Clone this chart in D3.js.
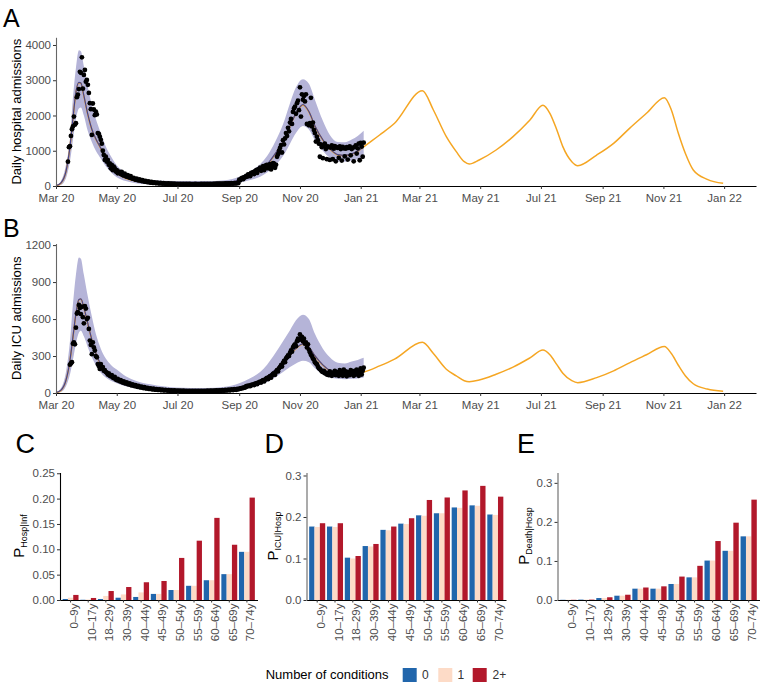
<!DOCTYPE html>
<html><head><meta charset="utf-8">
<script src="https://cdn.jsdelivr.net/npm/d3@7"></script>
<style>
body{margin:0;background:#fff}
text{font-family:"Liberation Sans",Arial,sans-serif}
</style>
</head><body>
<svg id="chart" width="760" height="682"></svg>
<script>
// ---------------- DATA ----------------
const hospObsStart = "2020-03-13";
const hospObs = [
690,1100,1130,1420,1610,1690,1970,1740,1780,2520,2590,2750,3240,3210,3650,2760,3150,3290,2960,3010,
2870,2640,2350,2180,1450,2340,2170,2010,2110,2030,1500,1480,1400,1310,1200,1000,
880,740,830,690,740,600,640,500,600,450,550,500,410,450,360,410,380,340,400,310,
300,350,280,270,310,250,240,280,220,210,
230,190,180,210,165,160,185,150,140,165,130,125,145,115,110,128,100,98,115,90,
88,102,82,80,94,76,74,88,72,70,82,66,68,
64,62,72,60,58,68,57,55,64,56,54,62,55,53,60,54,52,58,53,51,
59,52,50,57,51,50,56,52,50,57,51,49,56,52,51,58,53,51,59,54,
52,60,55,53,62,56,54,63,57,55,65,58,57,67,60,58,69,62,60,72,
64,62,75,67,65,79,70,68,83,74,72,88,79,
180,160,210,230,195,250,245, 290,265,330,320,280,370,360, 390,340,420,450,370,470,480,
520,430,490,560,450,510,590, 600,500,540,620,470,560,650, 635,515,600,830,900,1000,1080,
1160,950,1300,1180,1350,1500,1420, 1650,1550,1800,1900,1760,2100,2200, 2250,2050,2350,2420,2150,
2800,1970,2600,2450,2550,2400,2600, 1760,1750,1720,1780,2500,1690,1800, 1590,1500,1260,1400,1300,1200,830,
1180,1100,790,1150,1200,1050,760, 1120,1100,740,1090,1150,760,1060, 1130,700,1100,1080,800,1120,1050,
720,1110,1070,840,1060,1100,750, 1080,1120,870,1050,1090,700,1100, 1150,920,1070,1200,730,1220,1120,
830,1230];

const icuObsStart = "2020-03-15";
const icuObs = [
230,240,250,400,410,395,530, 645,655,715,690,640,700,615, 565,705,685,600,610,520,425,
390,315,410,370,345,300,290, 235,220,195,235,200,210,180, 185,170,165,150,160,140,135,
145,125,120,130,110,105,115, 100,95,105,90,85,95,80, 78,85,72,70,78,65,62,
70,58,56,63,52,50,57, 47,45,52,42,40,47,38, 37,42,34,33,38,31,30,
35,28,27,31,26,25,29,24,23,27,22,22,25,
22,20,24,19,18,22,18,17,21,17,16,20,17,16,19,16,15,19,16,15,
18,15,15,18,15,14,17,15,14,17,15,14,17,15,15,18,15,15,18,16,
15,19,16,16,19,17,16,20,17,17,21,18,18,22,19,18,23,20,19,25,
21,21,27,23,22,29,25,24,31,27,26,34,30,
33,38,36,42,40,46,44, 55,52,60,58,55,66,64, 70,65,76,78,72,84,86,
92,85,98,104,94,108,116, 122,112,128,136,124,144,154, 160,148,172,185,175,200,210,
225,215,245,260,250,280,290, 305,300,325,345,335,370,385, 395,380,420,440,430,
475,445,455,420,440,400,410, 370,395,350,330,310,300,280, 270,250,240,235,215,200,195,
185,175,170,180,160,165,150, 160,145,175,150,140,165,155, 180,145,170,160,140,185,150,
165,140,190,150,175,135,170, 160,145,185,155,175,140,180, 150,190,165,140,175,200,150,
180,205];

const fitDates = ["2020-03-01","2020-03-06","2020-03-11","2020-03-15","2020-03-18","2020-03-21","2020-03-24","2020-03-26","2020-03-29","2020-04-02",
"2020-04-06","2020-04-10","2020-04-15","2020-04-20","2020-04-25","2020-05-01","2020-05-10","2020-05-20","2020-06-04","2020-06-29",
"2020-07-29","2020-08-18","2020-09-01","2020-09-12","2020-09-22","2020-09-29","2020-10-07","2020-10-15","2020-10-22","2020-10-28",
"2020-11-04","2020-11-10","2020-11-16","2020-11-24","2020-12-01","2020-12-09","2020-12-16","2020-12-23","2020-12-29","2021-01-04"];
const hospFit = [0,80,400,1100,1900,2650,2930,2910,2550,2020, 1600,1330,1060,780,560,370,220,140,90,70,
70,85,160,280,420,600,900,1250,1700,2050, 2300,2100,1700,1300,1050,880,860,900,980,1110];
const hospLo = [0,30,220,700,1300,1900,2200,2230,2000,1550, 1250,1000,780,560,400,250,140,80,45,25,
25,40,95,170,260,380,580,850,1200,1500, 1700,1600,1300,1000,800,700,690,720,760,820];
const hospHi = [20,140,600,1350,2500,3350,3850,3820,3400,2800, 2300,1900,1500,1120,850,590,380,250,170,140,
140,165,260,420,620,850,1250,1750,2350,2800, 3030,2900,2450,1850,1450,1250,1240,1320,1420,1570];
const icuFit = [0,20,100,260,450,640,755,760,690,560, 430,320,230,180,150,120,85,62,40,22,
18,24,40,65,95,130,185,250,310,360, 395,370,300,225,180,158,152,155,160,170];
const icuLo = [0,8,55,150,270,400,490,505,460,370, 290,225,165,125,100,80,55,40,25,14,
12,16,28,45,65,90,125,170,210,240, 262,250,200,150,125,115,112,115,118,125];
const icuHi = [5,40,170,420,720,960,1100,1090,960,780, 620,480,360,280,230,190,135,100,70,45,
40,50,80,120,170,230,320,420,510,590, 635,600,480,360,290,245,240,255,268,285];

const projDates = ["2021-01-04","2021-01-20","2021-02-04","2021-03-04","2021-03-15","2021-03-28","2021-04-07","2021-04-15","2021-04-20","2021-04-30",
"2021-05-17","2021-06-03","2021-06-20","2021-07-03","2021-07-10","2021-07-17","2021-07-23","2021-08-01","2021-08-07","2021-08-26",
"2021-09-12","2021-09-28","2021-10-15","2021-11-02","2021-11-09","2021-11-16","2021-11-23","2021-12-01","2021-12-15","2021-12-31"];
const hospProj = [1110,1447,1778,2704,2156,1399,974,690,624,738, 1021,1399,1872,2289,2062,1589,1116,690,577,879,
1210,1636,2062,2506,2156,1494,927,454,189,76];
const icuProj = [170,220,275,411,320,193,139,100,92,105, 152,210,285,348,310,230,160,100,84,125,
180,245,310,378,320,225,140,75,32,14];

const hospTicks = [0,1000,2000,3000,4000];
const icuTicks = [0,300,600,900,1200];

const ageGroups = ["0–9y","10–17y","18–29y","30–39y","40–44y","45–49y","50–54y","55–59y","60–64y","65–69y","70–74y"];
const conditionLevels = ["0","1","2+"];
const conditionColors = ["#2166ac","#fddbc7","#b2182b"];

const pHospInf0 = [0.002,0.0005,0.002,0.0045,0.006,0.012,0.0197,0.028,0.039,0.051,0.095];
const pHospInf1 = [0.0045,0.001,0.008,0.011,0.015,0.012,0.0197,0.028,0.039,0.051,0.095];
const pHospInf2 = [0.010,0.004,0.0177,0.0256,0.035,0.0375,0.083,0.117,0.162,0.109,0.202];
const pICU0 = [0.177,0.177,0.102,0.130,0.169,0.184,0.204,0.209,0.223,0.228,0.206];
const pICU1 = [0.176,0.176,0.100,0.129,0.168,0.183,0.203,0.209,0.222,0.227,0.205];
const pICU2 = [0.185,0.185,0.106,0.135,0.177,0.197,0.241,0.247,0.264,0.275,0.249];
const pDeath0 = [0.0005,0.001,0.005,0.011,0.029,0.029,0.041,0.058,0.101,0.126,0.163];
const pDeath1 = [0.0005,0.001,0.005,0.011,0.029,0.029,0.041,0.058,0.101,0.126,0.163];
const pDeath2 = [0.0005,0.001,0.007,0.0135,0.032,0.035,0.060,0.0875,0.151,0.198,0.257];

const cTicks = [0,0.05,0.10,0.15,0.20,0.25];
const dTicks = [0,0.1,0.2,0.3];
const eTicks = [0,0.1,0.2,0.3];

// ---------------- DRAW ----------------
const svg = d3.select("#chart");
const parse = d3.timeParse("%Y-%m-%d");
const TXT = "#4d4d4d";

const x = d3.scaleTime().domain([parse("2020-03-01"), parse("2022-02-02")]).range([56, 756]);

function styleAxis(g, domainColor){
  g.attr("font-family", null).attr("font-size", null);
  g.select(".domain").attr("stroke", domainColor).attr("stroke-width", 1.1);
  g.selectAll(".tick line").attr("stroke", "#333");
  g.selectAll(".tick text").attr("fill", TXT).style("font-size", "11.5px");
}

function tsPanel(o){
  const y = d3.scaleLinear().domain([0, o.ymax]).range([o.y0, o.y1]);
  const g = svg.append("g");
  const fd = fitDates.map(parse);
  const band = fd.map((d,i)=>({d, lo:o.lo[i], hi:o.hi[i]}));
  g.append("path").datum(band)
    .attr("d", d3.area().x(p=>x(p.d)).y0(p=>y(p.lo)).y1(p=>y(p.hi)).curve(d3.curveMonotoneX))
    .attr("fill", "#b5b4d8");
  const fitPts = fd.map((d,i)=>({d, v:o.fit[i]}));
  const projPts = projDates.map((d,i)=>({d:parse(d), v:o.proj[i]}));
  const line = d3.line().x(p=>x(p.d)).y(p=>y(p.v)).curve(d3.curveMonotoneX);
  g.append("path").datum(fitPts.slice(0,-1).concat(projPts))
    .attr("d", line).attr("fill","none").attr("stroke","#f5a623").attr("stroke-width",1.5);
  g.append("path").datum(fitPts)
    .attr("d", d3.line().x(p=>x(p.d)).y(p=>y(p.v)-0.4).curve(d3.curveMonotoneX))
    .attr("fill","none").attr("stroke","#45458f").attr("stroke-width",1.2);
  const start = parse(o.obsStart);
  g.append("g").selectAll("circle").data(o.obs).join("circle")
    .attr("cx",(v,i)=>x(d3.timeDay.offset(start,i))).attr("cy",v=>y(v)).attr("r",2.4).attr("fill","#000");

  const xa = svg.append("g").attr("transform",`translate(0,${o.y0})`)
    .call(d3.axisBottom(x).ticks(d3.timeMonth.every(2)).tickFormat(d3.timeFormat("%b %y")).tickSize(3).tickSizeOuter(0).tickPadding(5));
  styleAxis(xa, "#000");
  const ya = svg.append("g").attr("transform",`translate(56,0)`)
    .call(d3.axisLeft(y).tickValues(o.ticks).tickFormat(d3.format("d")).tickSize(3).tickSizeOuter(0).tickPadding(2));
  styleAxis(ya, "#666");

  svg.append("text").attr("transform",`translate(20.5,${(o.y0+o.y1)/2}) rotate(-90)`)
    .attr("text-anchor","middle").style("font-size","13px").attr("fill","#000").text(o.title);
  svg.append("text").attr("x",3).attr("y",o.letterY).style("font-size","25px").attr("fill","#000").text(o.letter);
}

tsPanel({ymax:4218, y0:186, y1:37.3, ticks:hospTicks, obs:hospObs, obsStart:hospObsStart,
  fit:hospFit, lo:hospLo, hi:hospHi, proj:hospProj, title:"Daily hospital admissions", letter:"A", letterY:27});
tsPanel({ymax:1213, y0:393, y1:243.5, ticks:icuTicks, obs:icuObs, obsStart:icuObsStart,
  fit:icuFit, lo:icuLo, hi:icuHi, proj:icuProj, title:"Daily ICU admissions", letter:"B", letterY:237});

function barPanel(o){
  const xb = d3.scaleBand().domain(ageGroups).range([o.left, o.right]).paddingInner(0.1).paddingOuter(0.15);
  const xs = d3.scaleBand().domain(conditionLevels).range([0, xb.bandwidth()]);
  const y = d3.scaleLinear().domain([0, o.ymax]).range([600, 472.5]);
  const g = svg.append("g");
  o.series.forEach((vals, k)=>{
    g.append("g").selectAll("rect").data(vals).join("rect")
      .attr("x",(v,i)=>xb(ageGroups[i]) + xs(conditionLevels[k]))
      .attr("width", xs.bandwidth())
      .attr("y", v=>y(v)).attr("height", v=>600 - y(v))
      .attr("fill", conditionColors[k]);
  });
  const xa = svg.append("g").attr("transform","translate(0,600)")
    .call(d3.axisBottom(xb).tickSize(2.5).tickSizeOuter(0));
  styleAxis(xa, "#000");
  xa.selectAll(".tick text").attr("transform","rotate(-90)").attr("text-anchor","end")
    .attr("x",-3.5).attr("y",3.5).attr("dy","0.35em");
  const ya = svg.append("g").attr("transform",`translate(${o.left},0)`)
    .call(d3.axisLeft(y).tickValues(o.ticks).tickFormat(d3.format(o.fmt)).tickSize(3).tickSizeOuter(0).tickPadding(2));
  styleAxis(ya, o.ycolor);
  const t = svg.append("text").attr("transform",`translate(${o.labX},536) rotate(-90)`)
    .attr("text-anchor","middle").attr("fill","#000");
  t.append("tspan").style("font-size","15px").text("P");
  t.append("tspan").style("font-size","9px").attr("dy",3).text(o.sub);
  svg.append("text").attr("x",o.letterX).attr("y",453).style("font-size","27px").attr("fill","#000").text(o.letter);
}

barPanel({left:60, right:257.5, ymax:0.2515, ticks:cTicks, fmt:".2f", series:[pHospInf0,pHospInf1,pHospInf2],
  sub:"Hosp|Inf", labX:24, letter:"C", letterX:15.5, ycolor:"#000"});
barPanel({left:306.5, right:506, ymax:0.3072, ticks:dTicks, fmt:".1f", series:[pICU0,pICU1,pICU2],
  sub:"ICU|Hosp", labX:278, letter:"D", letterX:264.5, ycolor:"#666"});
barPanel({left:557.5, right:759.5, ymax:0.3265, ticks:eTicks, fmt:".1f", series:[pDeath0,pDeath1,pDeath2],
  sub:"Death|Hosp", labX:529, letter:"E", letterX:517, ycolor:"#666"});

// Legend
svg.append("text").attr("x",265.7).attr("y",679).style("font-size","13px").attr("fill","#000").text("Number of conditions");
const legX = [402.7, 438.3, 472.7];
const legLabX = [422, 457.5, 492.5];
conditionLevels.forEach((c,k)=>{
  svg.append("rect").attr("x",legX[k]).attr("y",668).attr("width",14).attr("height",14).attr("fill",conditionColors[k]);
  svg.append("text").attr("x",legLabX[k]).attr("y",679).style("font-size","12px").attr("fill","#333").text(c);
});
</script>
</body></html>
